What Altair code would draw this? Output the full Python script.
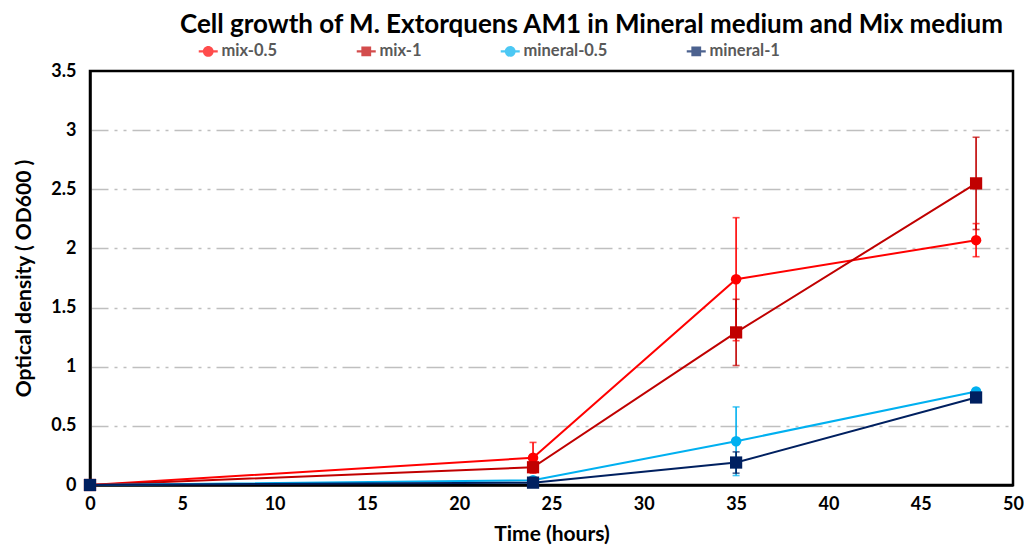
import altair as alt
import pandas as pd

# ---- data ----
time_h = [0, 24, 35, 48]
series_names = ["mix-0.5", "mix-1", "mineral-0.5", "mineral-1"]
mix_05 = [0.0, 0.23, 1.74, 2.07]
mix_05_err = [0.0, 0.13, 0.52, 0.14]
mix_1 = [0.0, 0.15, 1.29, 2.55]
mix_1_err = [0.0, 0.02, 0.28, 0.39]
mineral_05 = [0.0, 0.04, 0.37, 0.79]
mineral_05_err = [0.0, 0.01, 0.29, 0.02]
mineral_1 = [0.0, 0.02, 0.19, 0.74]
mineral_1_err = [0.0, 0.01, 0.09, 0.02]
colors = ["#FF0000", "#C00000", "#00B0F0", "#002060"]
marker = ["circle", "square", "circle", "square"]
y_ticks = [0, 0.5, 1, 1.5, 2, 2.5, 3, 3.5]
x_ticks = [0, 5, 10, 15, 20, 25, 30, 35, 40, 45, 50]

rows = []
for name, vals, errs, mk in zip(series_names,
                                [mix_05, mix_1, mineral_05, mineral_1],
                                [mix_05_err, mix_1_err, mineral_05_err, mineral_1_err],
                                marker):
    for t, v, e in zip(time_h, vals, errs):
        rows.append({"series": name, "time": t, "od": v,
                     "lo": v - e, "hi": v + e, "marker": mk, "err": e})
df = pd.DataFrame(rows)

FONT = "Lato"

color_scale = alt.Scale(domain=series_names, range=colors)
color = alt.Color("series:N", scale=color_scale)
x = alt.X("time:Q", scale=alt.Scale(domain=[0, 50], nice=False),
          axis=alt.Axis(values=x_ticks, title="Time (hours)", grid=False, labelFlush=False))
y = alt.Y("od:Q", scale=alt.Scale(domain=[0, 3.5], nice=False),
          axis=alt.Axis(values=y_ticks, title="Optical density ( OD600 )",
                        labelExpr="datum.value", labelFlush=False,
                        gridOpacity={"condition": {"test": "datum.value <= 0 || datum.value >= 3.5", "value": 0}, "value": 1}))

base = alt.Chart(df)
err_df = base.transform_filter("datum.err > 0")

# legend helper (line + marker symbols); its own marks sit outside the clipped plot
circ_path = "M-1.9,-0.22H1.9V0.22H-1.9Z M-1.08,0A1.08,1.08 0 1,1 1.08,0A1.08,1.08 0 1,1 -1.08,0Z"
sq_path = "M-1.9,-0.22H1.9V0.22H-1.9Z M-0.98,-0.98H0.98V0.98H-0.98Z"
legend_layer = base.mark_point(filled=True, opacity=1, size=100, clip=True).encode(
    x=alt.value(-3000), y=alt.value(-3000),
    color=alt.Color("series:N", scale=color_scale,
                    legend=alt.Legend(title=None, orient="none", direction="horizontal",
                                      legendX=110, legendY=-28, columns=4, gridAlign="each",
                                      columnPadding=78, labelOffset=5,
                                      symbolSize=100, symbolOpacity=1, symbolStrokeWidth=0,
                                      labelFont=FONT, labelFontSize=16.5, labelFontWeight="bold",
                                      labelColor="#595959")),
    shape=alt.Shape("series:N", scale=alt.Scale(domain=series_names,
                                                range=[circ_path, sq_path, circ_path, sq_path])),
)

rules = err_df.mark_rule(strokeWidth=1.6).encode(
    x=alt.X("time:Q"), y=alt.Y("lo:Q"), y2="hi:Q", color=color)
cap_lo = err_df.mark_tick(orient="horizontal", size=7, thickness=1.6).encode(
    x="time:Q", y="lo:Q", color=color)
cap_hi = err_df.mark_tick(orient="horizontal", size=7, thickness=1.6).encode(
    x="time:Q", y="hi:Q", color=color)

lines = base.mark_line(strokeWidth=2).encode(x=x, y=y, color=color, detail="series:N")
circles = base.transform_filter("datum.marker == 'circle'").mark_point(
    shape="circle", filled=True, size=110, opacity=1).encode(x="time:Q", y="od:Q", color=color)
squares = base.transform_filter("datum.marker == 'square'").mark_point(
    shape="square", filled=True, size=150, opacity=1).encode(x="time:Q", y="od:Q", color=color)

chart = alt.layer(legend_layer, lines, rules, cap_lo, cap_hi, circles, squares).properties(
    width=923, height=414,
    title=alt.TitleParams("Cell growth of M. Extorquens AM1 in Mineral medium and Mix medium",
                          font=FONT, fontSize=26, fontWeight="bold", color="#000000",
                          anchor="middle", dx=40, offset=5),
    padding={"left": 90, "top": 71, "right": 11, "bottom": 69},
    autosize=alt.AutoSizeParams(type="none"),
).configure_view(stroke="#000000", strokeWidth=2.5).configure_axis(
    labelFont=FONT, labelFontSize=18, labelFontWeight="bold", labelColor="#000000",
    titleFont=FONT, titleFontSize=21, titleFontWeight="bold", titleColor="#000000",
    domainColor="#000000", domainWidth=2.5, ticks=False,
    gridColor="#BFBFBF", gridWidth=1.5, gridDash=[18, 6, 3, 6, 3, 6],
).configure_axisX(titlePadding=10, labelPadding=10).configure_axisY(titlePadding=16, labelPadding=14)

chart.save("out.html", embed_options={"renderer": "svg", "actions": False})
